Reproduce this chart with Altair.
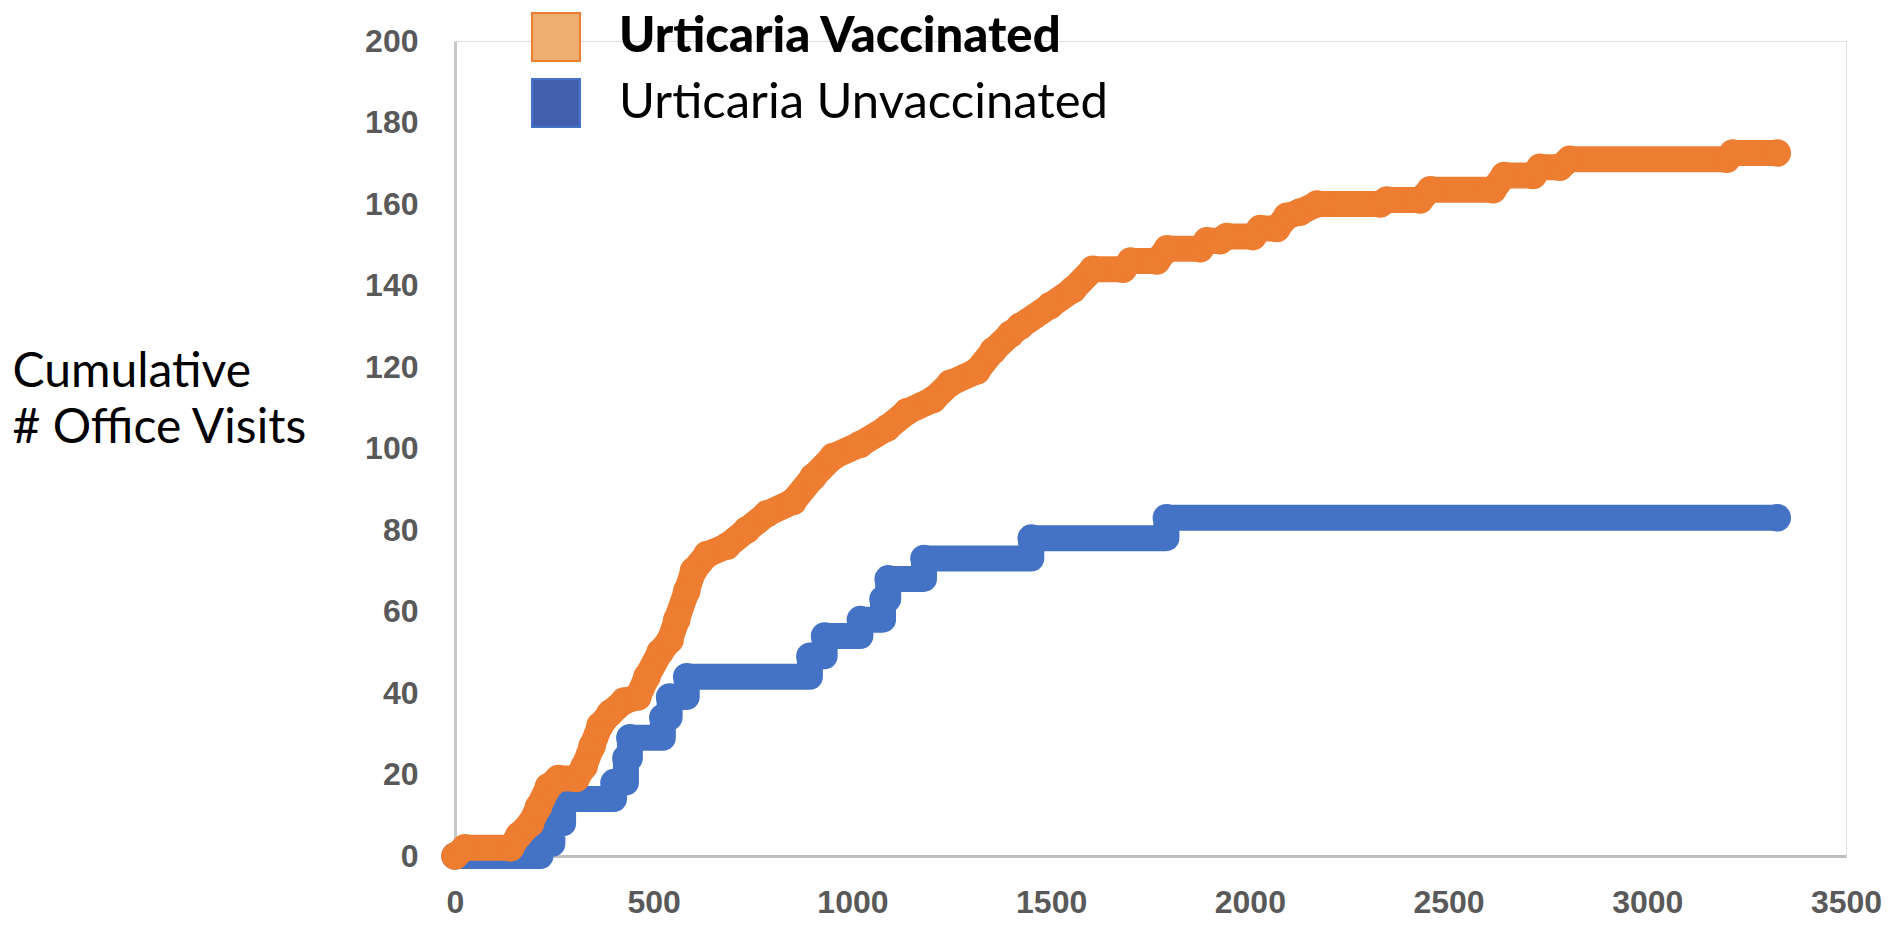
import altair as alt
import pandas as pd

# --- data ---
vacc_days = [0, 25, 140, 160, 190, 210, 235, 260, 305, 325, 345, 365, 390, 425, 460,
             483, 516, 541, 558, 583, 600, 634, 684, 734, 785, 851, 901, 951, 1019,
             1087, 1137, 1203, 1246, 1313, 1354, 1397, 1422, 1497, 1555, 1605, 1681,
             1700, 1766, 1792, 1875, 1892, 1925, 1942, 2008, 2026, 2068, 2093, 2126,
             2169, 2328, 2345, 2428, 2454, 2612, 2640, 2713, 2730, 2780, 2805, 3200,
             3215, 3327]
vacc_visits = [0, 2, 2, 5, 8, 12, 17, 19, 19, 22, 27, 32, 35, 38, 39,
               44, 50, 53, 58, 65, 70, 74, 76, 80, 84, 87, 93, 98, 101,
               105, 109, 112, 116, 119, 124, 128, 130, 135, 139, 144, 144,
               146, 146, 149, 149, 151, 151, 152, 152, 154, 154, 157, 158,
               160, 160, 161, 161, 163.5, 163.5, 167, 167, 169, 169, 171, 171,
               172.5, 172.5]

unvacc_days = [0, 215, 245, 272, 400, 430, 440, 523, 540, 583, 893, 930, 1020,
               1077, 1090, 1180, 1450, 1790, 3327]
unvacc_visits = [0, 3, 8, 14, 18, 24, 29, 34, 39, 44, 49, 54, 58,
                 63, 68, 73, 78, 83, 83]

series_names = ["Urticaria Vaccinated", "Urticaria Unvaccinated"]
line_colors = ["#ED7D31", "#4472C4"]
swatch_colors = ["#EDAF6F", "#4360AF"]
x_ticks = [0, 500, 1000, 1500, 2000, 2500, 3000, 3500]
y_ticks = [0, 20, 40, 60, 80, 100, 120, 140, 160, 180, 200]

vacc = pd.DataFrame({"day": vacc_days, "visits": vacc_visits, "series": series_names[0]})
unvacc = pd.DataFrame({"day": unvacc_days, "visits": unvacc_visits, "series": series_names[1]})
legend_df = pd.DataFrame({"day": [0, 0], "visits": [0, 0], "series": series_names})

LABEL_FONT = "Liberation Sans"
TEXT_FONT = "Lato"

x_enc = alt.X("day:Q",
              scale=alt.Scale(domain=[0, 3500], nice=False),
              axis=alt.Axis(values=x_ticks, title=None, grid=False, ticks=False, format="d",
                            labelFont=LABEL_FONT, labelFontSize=32, labelFontWeight="bold",
                            labelColor="#595959", labelPadding=31,
                            domainColor="#BFBFBF", domainWidth=3, labelFlush=False))
y_enc = alt.Y("visits:Q",
              scale=alt.Scale(domain=[0, 200], nice=False),
              axis=alt.Axis(values=y_ticks, grid=False, ticks=False, format="d",
                            labelFont=LABEL_FONT, labelFontSize=32, labelFontWeight="bold",
                            labelColor="#595959", labelPadding=37,
                            domainColor="#C8C8C8", domainWidth=3, labelFlush=False,
                            title=["Cumulative", "# Office Visits"],
                            titleAngle=0, titleAlign="left", titleBaseline="alphabetic",
                            titleX=-443, titleY=345, titleFont=TEXT_FONT,
                            titleFontSize=48, titleFontWeight="normal",
                            titleColor="#000000", titleLineHeight=56))

line_scale = alt.Scale(domain=series_names, range=line_colors)

def series_layers(df, interp):
    line = alt.Chart(df).mark_line(
        strokeWidth=26, strokeCap="round", strokeJoin="round", interpolate=interp
    ).encode(x=x_enc, y=y_enc,
             stroke=alt.Stroke("series:N", scale=line_scale, legend=None))
    pts = alt.Chart(df).mark_circle(size=760, opacity=1).encode(
        x=x_enc, y=y_enc,
        color=alt.Color("series:N", scale=line_scale, legend=None))
    return line + pts

legend_layer = alt.Chart(legend_df).mark_square(
    filled=True, opacity=0, stroke="#3A5BA5", strokeWidth=2
).encode(
    x=x_enc, y=y_enc,
    fill=alt.Fill("series:N",
                  scale=alt.Scale(domain=series_names, range=swatch_colors),
                  legend=alt.Legend(
                      title=None, orient="none", legendX=76, legendY=-29,
                      symbolType="square", symbolSize=2304,
                      symbolStrokeColor="#3A5BA5", symbolStrokeWidth=2,
                      symbolOpacity=1,
                      labelFont=TEXT_FONT, labelFontSize=49, labelColor="#000000",
                      labelFontWeight=alt.ExprRef(
                          "datum.label == 'Urticaria Vaccinated' ? 900 : 'normal'"),
                      labelOffset=38, rowPadding=10, labelLimit=0, padding=0))
)

chart = alt.layer(
    legend_layer,
    series_layers(unvacc, "step-after"),
    series_layers(vacc, "linear"),
).properties(
    width=1391, height=815,
    autosize=alt.AutoSizeParams(type="none"),
    padding={"left": 447, "top": 33, "right": 40, "bottom": 64},
).configure_view(stroke=None).configure(background="white")

chart.save("out.html", embed_options={"renderer": "svg", "actions": False})
